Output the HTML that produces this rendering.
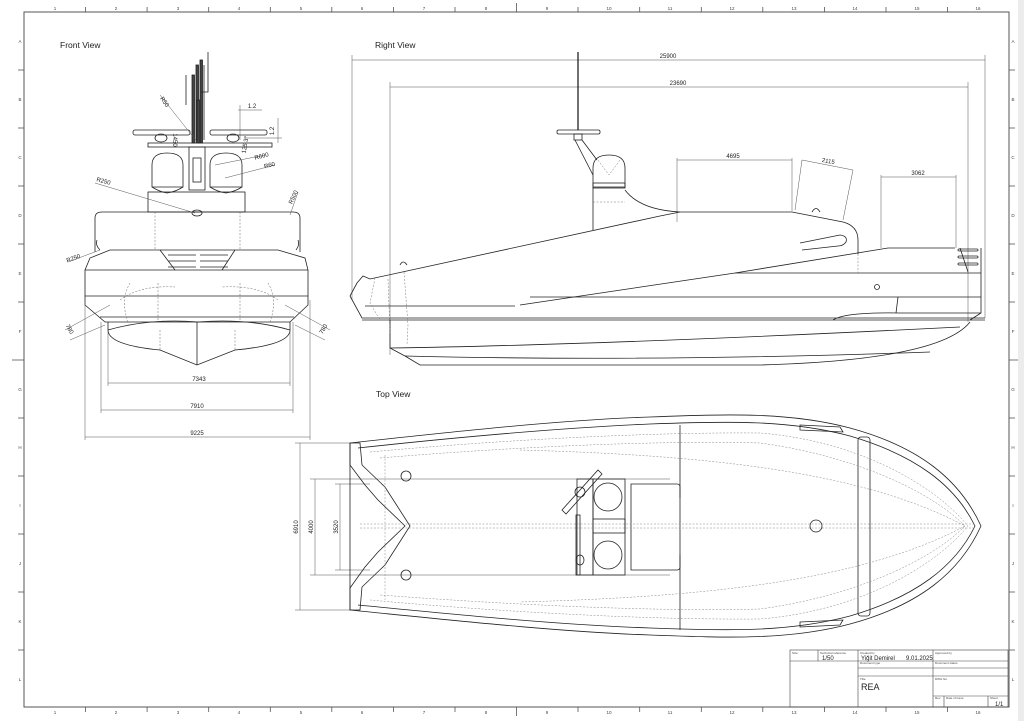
<!DOCTYPE html>
<html><head><meta charset="utf-8"><style>
html,body{margin:0;padding:0;background:#fff;}
svg{display:block;font-family:"Liberation Sans",sans-serif;}
</style></head><body>
<svg width="1024" height="721" viewBox="0 0 1024 721" xmlns="http://www.w3.org/2000/svg">
<rect x="0" y="0" width="1024" height="721" fill="#fff"/>
<rect x="1018" y="0" width="6" height="721" fill="#ececec"/>
<!-- frame -->
<rect x="24" y="12" width="985" height="695" fill="none" stroke="#555" stroke-width="1"/>
<g stroke="#555" stroke-width="0.8">
<line x1="85.6" y1="7" x2="85.6" y2="12"/><line x1="147.1" y1="7" x2="147.1" y2="12"/><line x1="208.7" y1="7" x2="208.7" y2="12"/><line x1="270.3" y1="7" x2="270.3" y2="12"/><line x1="331.8" y1="7" x2="331.8" y2="12"/><line x1="393.4" y1="7" x2="393.4" y2="12"/><line x1="455" y1="7" x2="455" y2="12"/><line x1="516.5" y1="3" x2="516.5" y2="12"/><line x1="578" y1="7" x2="578" y2="12"/><line x1="639.7" y1="7" x2="639.7" y2="12"/><line x1="701.3" y1="7" x2="701.3" y2="12"/><line x1="762.8" y1="7" x2="762.8" y2="12"/><line x1="824.4" y1="7" x2="824.4" y2="12"/><line x1="886" y1="7" x2="886" y2="12"/><line x1="947.5" y1="7" x2="947.5" y2="12"/>
<line x1="85.6" y1="707" x2="85.6" y2="712"/><line x1="147.1" y1="707" x2="147.1" y2="712"/><line x1="208.7" y1="707" x2="208.7" y2="712"/><line x1="270.3" y1="707" x2="270.3" y2="712"/><line x1="331.8" y1="707" x2="331.8" y2="712"/><line x1="393.4" y1="707" x2="393.4" y2="712"/><line x1="455" y1="707" x2="455" y2="712"/><line x1="516.5" y1="707" x2="516.5" y2="716"/><line x1="578" y1="707" x2="578" y2="712"/><line x1="639.7" y1="707" x2="639.7" y2="712"/><line x1="701.3" y1="707" x2="701.3" y2="712"/><line x1="762.8" y1="707" x2="762.8" y2="712"/><line x1="824.4" y1="707" x2="824.4" y2="712"/><line x1="886" y1="707" x2="886" y2="712"/><line x1="947.5" y1="707" x2="947.5" y2="712"/>
<line x1="18" y1="70" x2="24" y2="70"/><line x1="18" y1="128" x2="24" y2="128"/><line x1="18" y1="186" x2="24" y2="186"/><line x1="18" y1="244" x2="24" y2="244"/><line x1="18" y1="302" x2="24" y2="302"/><line x1="12" y1="360" x2="24" y2="360"/><line x1="18" y1="418" x2="24" y2="418"/><line x1="18" y1="476" x2="24" y2="476"/><line x1="18" y1="534" x2="24" y2="534"/><line x1="18" y1="592" x2="24" y2="592"/><line x1="18" y1="650" x2="24" y2="650"/>
<line x1="1009" y1="70" x2="1015" y2="70"/><line x1="1009" y1="128" x2="1015" y2="128"/><line x1="1009" y1="186" x2="1015" y2="186"/><line x1="1009" y1="244" x2="1015" y2="244"/><line x1="1009" y1="302" x2="1015" y2="302"/><line x1="1009" y1="360" x2="1018" y2="360"/><line x1="1009" y1="418" x2="1015" y2="418"/><line x1="1009" y1="476" x2="1015" y2="476"/><line x1="1009" y1="534" x2="1015" y2="534"/><line x1="1009" y1="592" x2="1015" y2="592"/><line x1="1009" y1="650" x2="1015" y2="650"/>
</g>
<g font-size="4.5" fill="#444" text-anchor="middle">
<text x="55" y="10">1</text><text x="116" y="10">2</text><text x="178" y="10">3</text><text x="239" y="10">4</text><text x="301" y="10">5</text><text x="362" y="10">6</text><text x="424" y="10">7</text><text x="486" y="10">8</text><text x="547" y="10">9</text><text x="609" y="10">10</text><text x="670" y="10">11</text><text x="732" y="10">12</text><text x="794" y="10">13</text><text x="855" y="10">14</text><text x="917" y="10">15</text><text x="978" y="10">16</text>
<text x="55" y="714">1</text><text x="116" y="714">2</text><text x="178" y="714">3</text><text x="239" y="714">4</text><text x="301" y="714">5</text><text x="362" y="714">6</text><text x="424" y="714">7</text><text x="486" y="714">8</text><text x="547" y="714">9</text><text x="609" y="714">10</text><text x="670" y="714">11</text><text x="732" y="714">12</text><text x="794" y="714">13</text><text x="855" y="714">14</text><text x="917" y="714">15</text><text x="978" y="714">16</text>
<text x="20" y="43">A</text><text x="20" y="101">B</text><text x="20" y="159">C</text><text x="20" y="217">D</text><text x="20" y="275">E</text><text x="20" y="333">F</text><text x="20" y="391">G</text><text x="20" y="449">H</text><text x="20" y="507">I</text><text x="20" y="565">J</text><text x="20" y="623">K</text><text x="20" y="681">L</text>
<text x="1013" y="43">A</text><text x="1013" y="101">B</text><text x="1013" y="159">C</text><text x="1013" y="217">D</text><text x="1013" y="275">E</text><text x="1013" y="333">F</text><text x="1013" y="391">G</text><text x="1013" y="449">H</text><text x="1013" y="507">I</text><text x="1013" y="565">J</text><text x="1013" y="623">K</text><text x="1013" y="681">L</text>
</g>
<g font-size="8.5" fill="#222">
<text x="60" y="48">Front View</text><text x="375" y="48">Right View</text><text x="376" y="397">Top View</text>
</g>

<!-- FRONT VIEW -->
<g fill="none" stroke="#222" stroke-width="0.8">
<rect x="192" y="75" width="2.5" height="68" fill="#444"/><rect x="196" y="65" width="2.5" height="78" fill="#444"/><rect x="200" y="60" width="2.5" height="83" fill="#444"/><rect x="197" y="100" width="3" height="43" fill="#444"/>
<polyline points="186,75 186,105"/><polyline points="208,52 208,92 201,92"/><polyline points="204,65 204,140"/>
<rect x="133" y="130" width="57" height="5" rx="2"/><rect x="210" y="130" width="57" height="5" rx="2"/>
<ellipse cx="161" cy="138" rx="6" ry="4"/><ellipse cx="233" cy="138" rx="6" ry="4"/>
<rect x="148" y="143" width="124" height="4"/>
<rect x="189" y="147" width="16" height="43"/><rect x="193" y="158" width="8" height="24"/>
<path d="M152 187 L152 165 Q152 153 167 153 Q183 153 183 165 L183 187 Z"/>
<path d="M210 187 L210 165 Q210 153 226 153 Q242 153 242 165 L242 187 Z"/>
<path d="M152 187 Q160 192 167 193 Q175 192 183 187"/><path d="M210 187 Q218 192 226 193 Q234 192 242 187"/>
<rect x="148" y="192" width="97" height="20"/>
<path d="M95 252 L95 218 Q95 212 102 212 L293 212 Q300 212 300 218 L300 252"/>
<ellipse cx="197" cy="213" rx="5" ry="3"/>
<path d="M110 250 L278 250 L305 258 L308 270 L308 305 L290 322 L105 322 L85 305 L85 270 L90 258 Z"/>
<line x1="85" y1="270" x2="308" y2="270"/><line x1="85" y1="296" x2="308" y2="296"/><line x1="100" y1="317" x2="294" y2="317"/>
<line x1="160" y1="250" x2="175" y2="270"/><line x1="235" y1="250" x2="222" y2="270"/>
<line x1="168" y1="255" x2="196" y2="255"/><line x1="200" y1="255" x2="228" y2="255"/><line x1="168" y1="261" x2="196" y2="261"/><line x1="200" y1="261" x2="228" y2="261"/><line x1="168" y1="267" x2="196" y2="267"/><line x1="200" y1="267" x2="228" y2="267"/>
<path d="M108 322 L108 330 Q150 318 198 322 Q248 318 290 330 L290 322"/>
<path d="M108 330 Q108 345 160 350 L197 365 L235 350 Q290 345 290 330"/>
<line x1="197" y1="322" x2="197" y2="365"/>
<path d="M97 240 Q95 245 100 250"/><path d="M298 240 Q300 245 296 250"/>
</g>
<g fill="none" stroke="#666" stroke-width="0.5" stroke-dasharray="2,1.5">
<line x1="155" y1="212" x2="155" y2="250"/><line x1="240" y1="212" x2="240" y2="250"/>
<path d="M130 283 Q120 300 128 322"/><path d="M268 283 Q278 300 270 322"/>
<path d="M158 283 L158 320"/><path d="M240 283 L240 320"/>
<path d="M120 300 Q140 285 175 287"/><path d="M278 300 Q258 285 222 287"/>
<line x1="160" y1="330" x2="160" y2="350"/><line x1="235" y1="330" x2="235" y2="350"/>
</g>
<g stroke="#555" stroke-width="0.5" fill="none">
<line x1="108" y1="330" x2="108" y2="386"/><line x1="290" y1="330" x2="290" y2="386"/><line x1="108" y1="383" x2="290" y2="383"/>
<line x1="101" y1="322" x2="101" y2="413"/><line x1="293" y1="322" x2="293" y2="413"/><line x1="101" y1="410" x2="293" y2="410"/>
<line x1="85" y1="300" x2="85" y2="440"/><line x1="310" y1="300" x2="310" y2="440"/><line x1="85" y1="437" x2="310" y2="437"/>
<line x1="160" y1="95" x2="198" y2="143"/><line x1="95" y1="183" x2="195" y2="213"/><line x1="215" y1="165" x2="265" y2="155"/><line x1="225" y1="178" x2="275" y2="165"/>
<line x1="68" y1="262" x2="100" y2="250"/><line x1="290" y1="215" x2="298" y2="192"/>
<line x1="65" y1="330" x2="110" y2="305"/><line x1="70" y1="340" x2="105" y2="325"/><line x1="285" y1="305" x2="330" y2="330"/><line x1="295" y1="325" x2="325" y2="340"/>
<line x1="238" y1="110" x2="262" y2="110"/><line x1="240" y1="105" x2="240" y2="140"/><line x1="245" y1="138" x2="282" y2="138"/><line x1="278" y1="118" x2="278" y2="143"/>
</g>
<g font-size="6" fill="#222" text-anchor="middle">
<text x="199" y="381">7343</text><text x="197" y="408">7910</text><text x="197" y="435">9225</text>
<text x="252" y="108">1.2</text>
<text transform="translate(274,131) rotate(-90)">1.2</text>
<text transform="translate(163,103) rotate(55)">R50</text>
<text transform="translate(103,183) rotate(15)">R250</text>
<text transform="translate(262,158) rotate(-15)">R600</text>
<text transform="translate(270,167) rotate(-15)">R60</text>
<text transform="translate(295,198) rotate(-65)">R500</text>
<text transform="translate(74,260) rotate(-20)">R250</text>
<text transform="translate(68,330) rotate(60)">780</text>
<text transform="translate(325,330) rotate(-60)">780</text>
<text transform="translate(173,140) rotate(90)">1450</text>
<text transform="translate(247,145) rotate(-80)">125.3°</text>
</g>

<!-- RIGHT VIEW -->
<g stroke="#555" stroke-width="0.5" fill="none">
<line x1="352" y1="60" x2="985" y2="60"/><line x1="352" y1="55" x2="352" y2="300"/><line x1="985" y1="55" x2="985" y2="318"/>
<line x1="390" y1="87" x2="968" y2="87"/><line x1="390" y1="82" x2="390" y2="355"/><line x1="968" y1="82" x2="968" y2="322"/>
<line x1="677" y1="160" x2="792" y2="160"/><line x1="677" y1="158" x2="677" y2="222"/><line x1="792" y1="158" x2="792" y2="211"/>
<line x1="802" y1="160" x2="853" y2="170"/><line x1="802" y1="160" x2="795" y2="210"/><line x1="853" y1="170" x2="843" y2="220"/>
<line x1="881" y1="177" x2="956" y2="177"/><line x1="881" y1="175" x2="881" y2="248"/><line x1="956" y1="175" x2="956" y2="248"/>
</g>
<g font-size="6" fill="#222" text-anchor="middle">
<text x="668" y="58">25900</text><text x="678" y="85">23690</text><text x="733" y="158">4695</text>
<text transform="translate(828,163) rotate(10)">2115</text><text x="918" y="175">3062</text>
</g>
<g fill="none" stroke="#222" stroke-width="0.8">
<line x1="578" y1="52" x2="578" y2="130" stroke-width="1.3"/>
<rect x="557" y="130" width="43" height="4" rx="1.5"/><rect x="574" y="134" width="8" height="6"/>
<path d="M575 140 L593 175 M582 140 L597 160"/>
<path d="M593 187 L593 168 Q593 155 609 155 Q625 155 625 168 L625 187 Z"/><rect x="593" y="183" width="32" height="5"/>
<line x1="593" y1="188" x2="593" y2="230"/>
<path d="M625 190 Q640 210 680 212 L792 212 L843 222 Q858 226 858 240 L858 254"/>
<path d="M800 243 L840 235 Q848 236 846 242 Q843 246 838 246 L802 250"/>
<path d="M350 296 L357 283 L363 276 L370 279 L660 216 L680 212"/>
<path d="M350 296 L362 318 L985 318"/><line x1="362" y1="320" x2="985" y2="320"/>
<line x1="365" y1="306" x2="515" y2="306"/><path d="M520 305 L735 273 L888 248 L955 248"/>
<line x1="735" y1="273" x2="981" y2="273"/><line x1="530" y1="297" x2="981" y2="297"/>
<path d="M981 248 L981 313 L970 320"/>
<line x1="960" y1="248" x2="968" y2="272"/>
<rect x="958" y="249" width="20" height="2" rx="1"/><rect x="958" y="256" width="20" height="2" rx="1"/><rect x="958" y="263" width="20" height="2" rx="1"/>
<circle cx="877" cy="287" r="2.5"/>
<line x1="898" y1="297" x2="896" y2="313"/>
<path d="M833 320 Q845 312 900 313 L981 313"/>
<path d="M390 320 L390 348 L405 356 L420 365 L760 365 Q940 360 970 322"/>
<path d="M390 348 Q600 345 960 327"/>
<path d="M405 356 Q650 362 930 352"/>
<path d="M400 265 Q403 259 407 265"/><path d="M812 212 Q816 205 820 212"/>
</g>
<g fill="none" stroke="#777" stroke-width="0.5" stroke-dasharray="2,1.5">
<path d="M375 278 L370 303 L380 320"/><path d="M388 279 L390 333"/><path d="M404 272 L408 325 L407 345"/>
<line x1="593" y1="202" x2="625" y2="202"/><line x1="858" y1="254" x2="858" y2="273"/>
<path d="M598 160 L609 175 L620 160"/>
</g>

<!-- TOP VIEW -->
<g stroke="#555" stroke-width="0.5" fill="none">
<line x1="295" y1="443" x2="352" y2="443"/><line x1="295" y1="610" x2="352" y2="610"/><line x1="300" y1="443" x2="300" y2="610"/>
<line x1="310" y1="479" x2="670" y2="479"/><line x1="310" y1="575" x2="670" y2="575"/><line x1="315" y1="479" x2="315" y2="575"/>
<line x1="335" y1="484" x2="370" y2="484"/><line x1="335" y1="570" x2="370" y2="570"/><line x1="340" y1="484" x2="340" y2="570"/>
</g>
<g font-size="6" fill="#222" text-anchor="middle">
<text transform="translate(298,527) rotate(-90)">6910</text>
<text transform="translate(313,527) rotate(-90)">4000</text>
<text transform="translate(338,527) rotate(-90)">3520</text>
</g>
<g fill="none" stroke="#222" stroke-width="0.8">
<path d="M350 443 C450 432 560 420 650 417 C730 414 790 412 850 428 C920 447 960 480 981 526 C960 572 920 605 850 624 C790 640 730 638 650 635 C560 632 450 620 350 610"/>
<path d="M358 448 C450 438 560 428 650 424 C730 421 790 420 850 436 C915 455 955 485 975 526 C955 567 915 597 850 616 C790 632 730 631 650 628 C560 625 450 614 358 605"/>
<path d="M350 443 L360 443 L362 465 L385 487 L410 526 L385 565 L362 587 L360 610 L350 610 Z"/>
<path d="M350 443 L350 465 L365 485 L378 500 L405 526 L378 552 L365 567 L350 588 L350 610"/>
<rect x="858" y="437" width="12" height="179" rx="3"/>
<line x1="680" y1="425" x2="680" y2="498"/><line x1="680" y1="555" x2="680" y2="630"/>
<rect x="577" y="479" width="16" height="96"/><rect x="593" y="479" width="32" height="96"/>
<circle cx="608" cy="497" r="14"/><circle cx="608" cy="555" r="14"/>
<path d="M631 484 L677 484 Q680 484 680 487 L680 567 Q680 570 677 570 L631 570 Z"/>
<rect x="593" y="519" width="32" height="14"/>
<path d="M562 510 L598 470 L602 474 L566 514 Z"/><circle cx="580" cy="492" r="5"/>
<rect x="576" y="515" width="4" height="60"/><ellipse cx="580" cy="560" rx="4" ry="5"/>
<circle cx="406" cy="476" r="5"/><circle cx="406" cy="575" r="5"/><circle cx="816" cy="526" r="6"/>
<path d="M800 425 L840 427 L843 432 L800 430 Z"/><path d="M800 627 L840 625 L843 620 L800 622 Z"/>
</g>
<g fill="none" stroke="#888" stroke-width="0.5" stroke-dasharray="2,1.5">
<line x1="360" y1="524" x2="975" y2="524"/><line x1="360" y1="528" x2="975" y2="528"/>
<path d="M370 452 C500 440 650 432 760 433 C850 440 930 480 968 526 C930 572 850 612 760 619 C650 620 500 612 370 600"/>
<path d="M380 458 C500 448 650 440 760 443 C850 455 930 490 965 526 C930 562 850 597 760 609 C650 612 500 604 380 595"/>
<path d="M520 450 C700 455 860 470 965 526 C860 582 700 597 520 602"/>
<line x1="385" y1="455" x2="385" y2="600"/>
</g>

<!-- TITLE BLOCK -->
<g fill="none" stroke="#444" stroke-width="0.6">
<rect x="790" y="650" width="218" height="57"/>
<line x1="790" y1="661" x2="1008" y2="661"/>
<line x1="818" y1="650" x2="818" y2="661"/><line x1="858" y1="650" x2="858" y2="707"/><line x1="933" y1="650" x2="933" y2="707"/>
<line x1="858" y1="668" x2="1008" y2="668"/><line x1="858" y1="676" x2="1008" y2="676"/><line x1="933" y1="696" x2="1008" y2="696"/>
<line x1="944" y1="696" x2="944" y2="707"/><line x1="988" y1="696" x2="988" y2="707"/>
</g>
<g font-size="3" fill="#444">
<text x="792" y="654">Size</text><text x="820" y="654">Technical reference</text><text x="860" y="654">Created by</text><text x="935" y="654">Approved by</text>
<text x="860" y="664">Document type</text><text x="935" y="664">Document status</text>
<text x="860" y="680">Title</text><text x="935" y="680">DWG No.</text>
<text x="935" y="699">Rev.</text><text x="946" y="699">Date of issue</text><text x="990" y="699">Sheet</text>
</g>
<g fill="#222">
<text x="822" y="660" font-size="6">1/50</text>
<text x="861" y="660" font-size="6">Yiğit Demirel</text><text x="906" y="660" font-size="6">9.01.2025</text>
<text x="861" y="690" font-size="9">REA</text>
<text x="995" y="706" font-size="6">1/1</text>
</g>
</svg>
</body></html>
